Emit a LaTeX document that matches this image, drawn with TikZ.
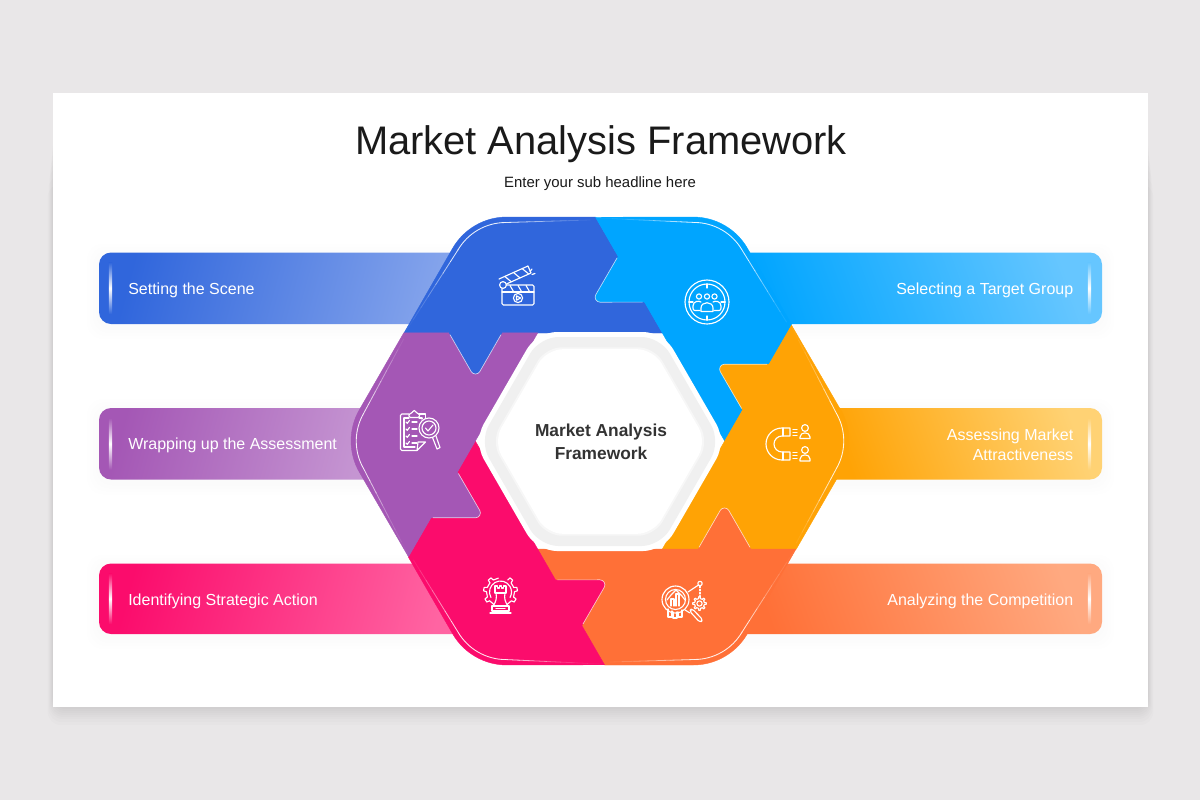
\documentclass[tikz,border=0pt]{standalone}
\usepackage{fontspec}
\setmainfont{Liberation Sans}
\usetikzlibrary{calc}
\definecolor{pagebg}{HTML}{E9E7E8}
\definecolor{hblue}{HTML}{3066DC}
\definecolor{hcyan}{HTML}{00A5FF}
\definecolor{hamber}{HTML}{FFA305}
\definecolor{horange}{HTML}{FF7037}
\definecolor{hpink}{HTML}{FB0C6C}
\definecolor{hpurple}{HTML}{A457B5}
\definecolor{lblue}{HTML}{86A5EC}
\definecolor{lcyan}{HTML}{66C6FF}
\definecolor{lamber}{HTML}{FFD274}
\definecolor{lorange}{HTML}{FFA980}
\definecolor{lpink}{HTML}{FF64A2}
\definecolor{lpurple}{HTML}{C595D2}
\definecolor{ringgray}{HTML}{F0F0F0}
\definecolor{ringsoft}{HTML}{F7F7F7}
\definecolor{titleink}{HTML}{1A1A1A}
\definecolor{centerink}{HTML}{333333}
\tikzset{
  ic/.style={draw=white,line width=.85pt,line join=round,line cap=round},
  barlabel/.style={text=white,font=\fontsize{12}{15}\selectfont,inner sep=0pt},
}
% bar: x0 x1 ytop ybot colA colB angle highlightx highlightcol
\newcommand{\mybar}[9]{%
  \foreach \e in {12,9,6,3}{\fill[black,opacity=.005,rounded corners=12pt] (#1-\e,#3-\e+3) rectangle (#2+\e,#4+\e+3);}
  \shade[left color=#5,right color=#6,shading angle=#7,rounded corners=9pt] (#1,#3) rectangle (#2,#4);
  \shade[top color=#9,bottom color=#9,middle color=white] (#8-1.6,#3+10) rectangle (#8+1.6,#4-10);
}
\newcommand{\mygear}[5]{% cx cy ri ro n
  \foreach \k in {1,...,#5}{
    \pgfmathsetmacro{\a}{360/#5*\k}
    \pgfmathsetmacro{\w}{90/#5}
    \pgfmathsetmacro{\nx}{360/#5*\k+360/#5-\w}
    \draw[ic] ($(#1,#2)+(\a-\w:#3)$) -- ($(#1,#2)+(\a-\w*.6:#4)$) -- ($(#1,#2)+(\a+\w*.6:#4)$) -- ($(#1,#2)+(\a+\w:#3)$) -- ($(#1,#2)+(\nx:#3)$);
  }
}
\begin{document}
\begin{tikzpicture}[x=.75pt,y=-.75pt]
\useasboundingbox (0,0) rectangle (1200,800);
\fill[pagebg] (0,0) rectangle (1200,800);
% card shadow
\foreach \e in {18,15,12,10,8,6,4,2}{\fill[black,opacity=.01,rounded corners=10pt] (53-.3*\e,130+3*\e) rectangle (1148+.3*\e,707+\e);}
\fill[white] (53,93) rectangle (1148,707);
\node[text=titleink,font=\fontsize{29.9}{36}\selectfont,inner sep=0pt] (title) at (601,144.5) {Market Analysis Framework};
\node[text=titleink,font=\fontsize{11.2}{14}\selectfont,inner sep=0pt] (sub) at (600,184) {Enter your sub headline here};
% bars
\mybar{99}{470}{252.5}{324}{hblue}{lblue}{75}{110.5}{hblue}
\mybar{99}{380}{408}{479.5}{hpurple}{lpurple}{75}{110.5}{hpurple}
\mybar{99}{470}{563.5}{634}{hpink}{lpink}{75}{110.5}{hpink}
\mybar{730}{1102}{252.5}{324}{hcyan}{lcyan}{110}{1089.5}{lcyan}
\mybar{820}{1102}{408}{479.5}{hamber}{lamber}{110}{1089.5}{lamber}
\mybar{730}{1102}{563.5}{634}{horange}{lorange}{110}{1089.5}{lorange}
% bar labels
\node[barlabel,anchor=west] (l1) at (128,290.5) {Setting the Scene};
\node[barlabel,anchor=west] (l2) at (128,445.5) {Wrapping up the Assessment};
\node[barlabel,anchor=west] (l3) at (128,601) {Identifying Strategic Action};
\node[barlabel,anchor=east] (r1) at (1073.5,290.5) {Selecting a Target Group};
\node[barlabel,anchor=east] (r2) at (1073.5,436) {Assessing Market};
\node[barlabel,anchor=east] (r2b) at (1073.5,455) {Attractiveness};
\node[barlabel,anchor=east] (r3) at (1073.5,601) {Analyzing the Competition};
% hexagon sectors
\foreach \i/\c in {0/hblue,1/hcyan,2/hamber,3/horange,4/hpink,5/hpurple}{
  \begin{scope}[shift={(600,441)},rotate=-60*\i]
    \fill[\c,draw=\c,line width=.3pt] (-196,-108) -- (-147.3,-192.8) .. controls (-136.16,-212.1) and (-115.4,-224) .. (-93.3,-224) -- (-4.5,-224) -- (62.5,-108) -- cycle;
  \end{scope}
}
% arrow tips and highlights
\foreach \i/\c in {0/hblue,1/hcyan,2/hamber,3/horange,4/hpink,5/hpurple}{
  \begin{scope}[shift={(600,441)},rotate=-60*\i]
    \fill[\c] (-151,-112) -- (-151,-108) -- (-128.83,-69.5) .. controls (-126.9,-66.17) and (-122.1,-66.17) .. (-120.17,-69.5) -- (-98,-108) -- (-98,-112) -- cycle;
    \draw[white,line width=.5pt,opacity=.7] (-150,-106.3) -- (-128.83,-69.5) .. controls (-126.9,-66.17) and (-122.1,-66.17) .. (-120.17,-69.5) -- (-99,-106.3);
    \draw[white,line width=.65pt,opacity=.9] (-142.2,-190.8) .. controls (-132.3,-207.95) and (-114,-218.5) .. (-94.2,-218.5);
    \foreach \f/\o in {0/.04,1/.1,2/.18,3/.3,4/.45,5/.65,6/.85}{
      \draw[white,line width=.6pt,opacity=\o] ($(-194,-110)!{\f/7}!(-142.2,-190.8)$) -- ($(-194,-110)!{(\f+1.03)/7}!(-142.2,-190.8)$);
    }
    \foreach \f/\o in {0/.85,1/.7,2/.55,3/.42,4/.3,5/.18,6/.08}{
      \draw[white,line width=.6pt,opacity=\o] ($(-94.2,-218.5)!{\f/7}!(-10,-221)$) -- ($(-94.2,-218.5)!{(\f+1.03)/7}!(-10,-221)$);
    }
  \end{scope}
}
% centre hexagon
\begin{scope}[shift={(600,441.5)}]
  \fill[white,rounded corners=15pt] (-126.4,0) -- (-63.2,-109.5) -- (63.2,-109.5) -- (126.4,0) -- (63.2,109.5) -- (-63.2,109.5) -- cycle;
  \fill[ringgray,rounded corners=14pt] (-120.6,0) -- (-60.3,-104.5) -- (60.3,-104.5) -- (120.6,0) -- (60.3,104.5) -- (-60.3,104.5) -- cycle;
  \fill[ringsoft,rounded corners=12pt] (-108.8,0) -- (-54.4,-94.2) -- (54.4,-94.2) -- (108.8,0) -- (54.4,94.2) -- (-54.4,94.2) -- cycle;
  \fill[white,rounded corners=12pt] (-106.6,0) -- (-53.3,-92.3) -- (53.3,-92.3) -- (106.6,0) -- (53.3,92.3) -- (-53.3,92.3) -- cycle;
\end{scope}
\node[text=centerink,font=\bfseries\fontsize{13}{16}\selectfont,inner sep=0pt] (c1) at (601,432) {Market Analysis};
\node[text=centerink,font=\bfseries\fontsize{13}{16}\selectfont,inner sep=0pt] (c2) at (601,453) {Framework};
% ICON clapperboard
\draw[ic,rounded corners=1pt] (502,285) rectangle (534,305);
\draw[ic] (502,292) -- (534,292);
\foreach \x in {510,518,526}{\draw[ic] (\x,285.5) -- (\x+3.5,291.5);}
\draw[ic] (499,279) -- (528,266) -- (531,273) -- (502,286);
\draw[ic] (504.8,276.4) -- (511.3,281.8);
\draw[ic] (513.5,272.5) -- (520,277.9);
\draw[ic] (522.2,268.6) -- (528.7,274);
\fill[hblue] (503,285) circle (3.6);
\draw[ic] (503,285) circle (3.4);
\draw[ic] (518,298) circle (4.6);
\draw[ic] (516.5,295.8) -- (520.5,298) -- (516.5,300.2) -- cycle;
\draw[ic] (530,271.5) -- (532,269);
\draw[ic] (532,274.5) -- (535,273.5);
% ICON target group
\draw[ic] (707,302) circle (22);
\draw[ic] (707,302) circle (18);
\draw[ic] (707,284) -- (707,288);
\draw[ic] (707,316) -- (707,320);
\draw[ic] (689,302) -- (693,302);
\draw[ic] (721,302) -- (725,302);
\foreach \x in {699,707,714.5}{\draw[ic] (\x,296.5) circle (2.6);}
\draw[ic] (700,310.5) -- (695,310.5) .. controls (693.5,310.5) and (693,309.5) .. (693,308) -- (693,306) .. controls (693,301) and (699,300.5) .. (701,302);
\draw[ic] (714,310.5) -- (719,310.5) .. controls (720.5,310.5) and (721,309.5) .. (721,308) -- (721,306) .. controls (721,301) and (715,300.5) .. (713,302);
\draw[ic] (701,311.5) -- (701,308) .. controls (701,301) and (713,301) .. (713,308) -- (713,311.5) -- cycle;
% ICON magnet
\draw[ic] (790,428) -- (782,428) arc[start angle=-90,end angle=-270,radius=16] -- (790,460) -- (790,452) -- (782,452) arc[start angle=90,end angle=270,radius=8] -- (790,436) -- cycle;
\draw[ic] (783,428) -- (783,436);
\draw[ic] (783,452) -- (783,460);
\foreach \y in {429.5,432.5,435.5}{\draw[ic] (793,\y) -- (797,\y);}
\foreach \y in {452.5,455.5,458.5}{\draw[ic] (793,\y) -- (797,\y);}
\draw[ic] (805,428) circle (3.4);
\draw[ic] (800,438.5) -- (800,437) .. controls (800,431.5) and (810,431.5) .. (810,437) -- (810,438.5) -- cycle;
\draw[ic] (805,450) circle (3.4);
\draw[ic] (800,461) -- (800,459) .. controls (800,453.5) and (810,453.5) .. (810,459) -- (810,461) -- cycle;
% ICON analysis
\draw[ic] (668,609) -- (668,617) -- (672,617) -- (672,611);
\draw[ic] (673,612) -- (673,618) -- (677,618) -- (677,612);
\draw[ic] (678,612) -- (678,617) -- (682,617) -- (682,610);
\draw[ic] (675.5,599.5) circle (13.5);
\draw[ic] (675.5,599.5) circle (10);
\draw[ic] (671,606) -- (671,599) -- (674,599) -- (674,606);
\draw[ic] (676,606) -- (676,594) -- (679,594) -- (679,606);
\draw[ic] (667,600) -- (671,595) -- (676,590) -- (682,596) -- (685,600);
\draw[ic] (685,610) -- (690,613);
\draw[ic,rounded corners=2pt] (689.5,611) -- (692,608.5) -- (703,620) -- (700,622.5) -- cycle;
\draw[ic] (700,583.5) circle (2.2);
\draw[ic] (698.5,585) -- (688,592);
\draw[ic,dash pattern=on 1.2pt off 1.2pt] (700,586) -- (700,597);
\mygear{699.5}{603.5}{5}{6.8}{8}
\draw[ic] (699.5,603.5) circle (2.6);
% ICON strategy gear
\foreach \k in {-50,-10,30,...,230}{
  \draw[ic] ($(500.5,592)+(\k-9:14)$) -- ($(500.5,592)+(\k-6:17)$) -- ($(500.5,592)+(\k+6:17)$) -- ($(500.5,592)+(\k+9:14)$) -- ($(500.5,592)+(\k+31:14)$);
}
\fill[hpink] (487,607) rectangle (514,614);
\draw[ic] ($(500.5,592)+(150:11)$) arc[start angle=150,end angle=390,radius=11];
\draw[ic] (495,593) -- (495,586) -- (497.5,586) -- (497.5,588) -- (499.5,588) -- (499.5,586) -- (501.5,586) -- (501.5,588) -- (503.5,588) -- (503.5,586) -- (506,586) -- (506,593) -- cycle;
\draw[ic] (496,593) .. controls (497,598) and (496,602) .. (493,606) -- (508,606) .. controls (505,602) and (504,598) .. (505,593);
\draw[ic] (492,606) rectangle (509,611);
\draw[ic] (490,613) -- (511,613);
\draw[ic] (496,608.5) -- (505,608.5);
% ICON clipboard
\draw[ic,rounded corners=1pt] (417,450.5) -- (400.5,450.5) -- (400.5,414) -- (409,414);
\draw[ic] (419,414) -- (425.5,414) -- (425.5,418);
\draw[ic] (404,418) -- (404,447) -- (415,447);
\draw[ic] (404,418) -- (409,418);
\draw[ic] (419,418) -- (422,418) -- (422,419);
\draw[ic,rounded corners=1pt] (409,417.5) -- (409,413.5) -- (412,413.5) -- (413,410.5) -- (415.5,410.5) -- (416.5,413.5) -- (419.5,413.5) -- (419.5,417.5) -- cycle;
\foreach \y in {422,429,436,443}{
  \draw[ic] (406,\y) -- (407.3,\y+1.3) -- (409.5,\y-1.6);
  \draw[ic] (412,\y) -- (417,\y);
}
\draw[ic] (417,450.5) -- (425.5,442) -- (418,442) -- (417,450.5);
\fill[hpurple] (429,428) circle (10.5);
\draw[ic] (429,428) circle (10);
\draw[ic] (429,428) circle (7);
\draw[ic] (425.5,428) -- (428,431) -- (433,425);
\draw[ic] (436,436) -- (440,447.5) -- (437,449) -- (432.5,437.5);
\end{tikzpicture}
\end{document}
